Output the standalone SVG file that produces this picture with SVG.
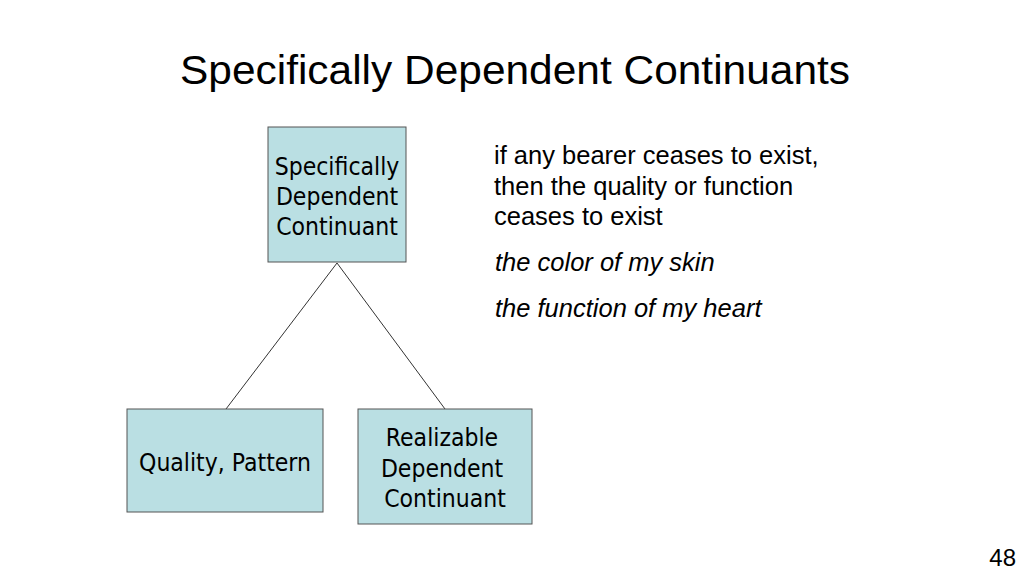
<svg xmlns="http://www.w3.org/2000/svg" width="1024" height="576" viewBox="0 0 1024 576">
<style>
.box{fill:#badfe3;stroke:#555;stroke-width:1}
.bt{font-family:"DejaVu Sans Condensed","DejaVu Sans",sans-serif;font-size:24.5px;fill:#000;text-anchor:middle}
.rt{font-family:"Liberation Sans",Arial,sans-serif;font-size:25.5px;fill:#000}
.it{font-style:italic}
.ln{stroke:#333;stroke-width:1;fill:none}
</style>
<rect width="1024" height="576" fill="#fff"/>
<text x="515" y="84" font-family="Liberation Sans,Arial,sans-serif" font-size="40" text-anchor="middle" textLength="670" lengthAdjust="spacingAndGlyphs">Specifically Dependent Continuants</text>
<g id="connectors">
<line class="ln" x1="337" y1="263" x2="226" y2="409"/>
<line class="ln" x1="337" y1="263" x2="445" y2="409"/>
</g>
<g id="sdc">
<rect class="box" x="268" y="127" width="138" height="135"/>
<text class="bt" x="337" y="175">Specifically</text>
<text class="bt" x="337" y="205">Dependent</text>
<text class="bt" x="337" y="235">Continuant</text>
</g>
<g id="quality">
<rect class="box" x="127" y="409" width="196" height="103"/>
<text class="bt" x="225" y="471">Quality, Pattern</text>
</g>
<g id="realizable">
<rect class="box" x="358" y="409" width="174" height="115"/>
<text class="bt" x="442" y="446">Realizable</text>
<text class="bt" x="442" y="477">Dependent</text>
<text class="bt" x="445" y="507">Continuant</text>
</g>
<g id="notes">
<text class="rt" x="494" y="164">if any bearer ceases to exist,</text>
<text class="rt" x="494" y="195">then the quality or function</text>
<text class="rt" x="494" y="225">ceases to exist</text>
<text class="rt it" x="495" y="271">the color of my skin</text>
<text class="rt it" x="495" y="317">the function of my heart</text>
</g>
<text x="1016" y="566" font-family="Liberation Sans,Arial,sans-serif" font-size="24" text-anchor="end">48</text>
</svg>
